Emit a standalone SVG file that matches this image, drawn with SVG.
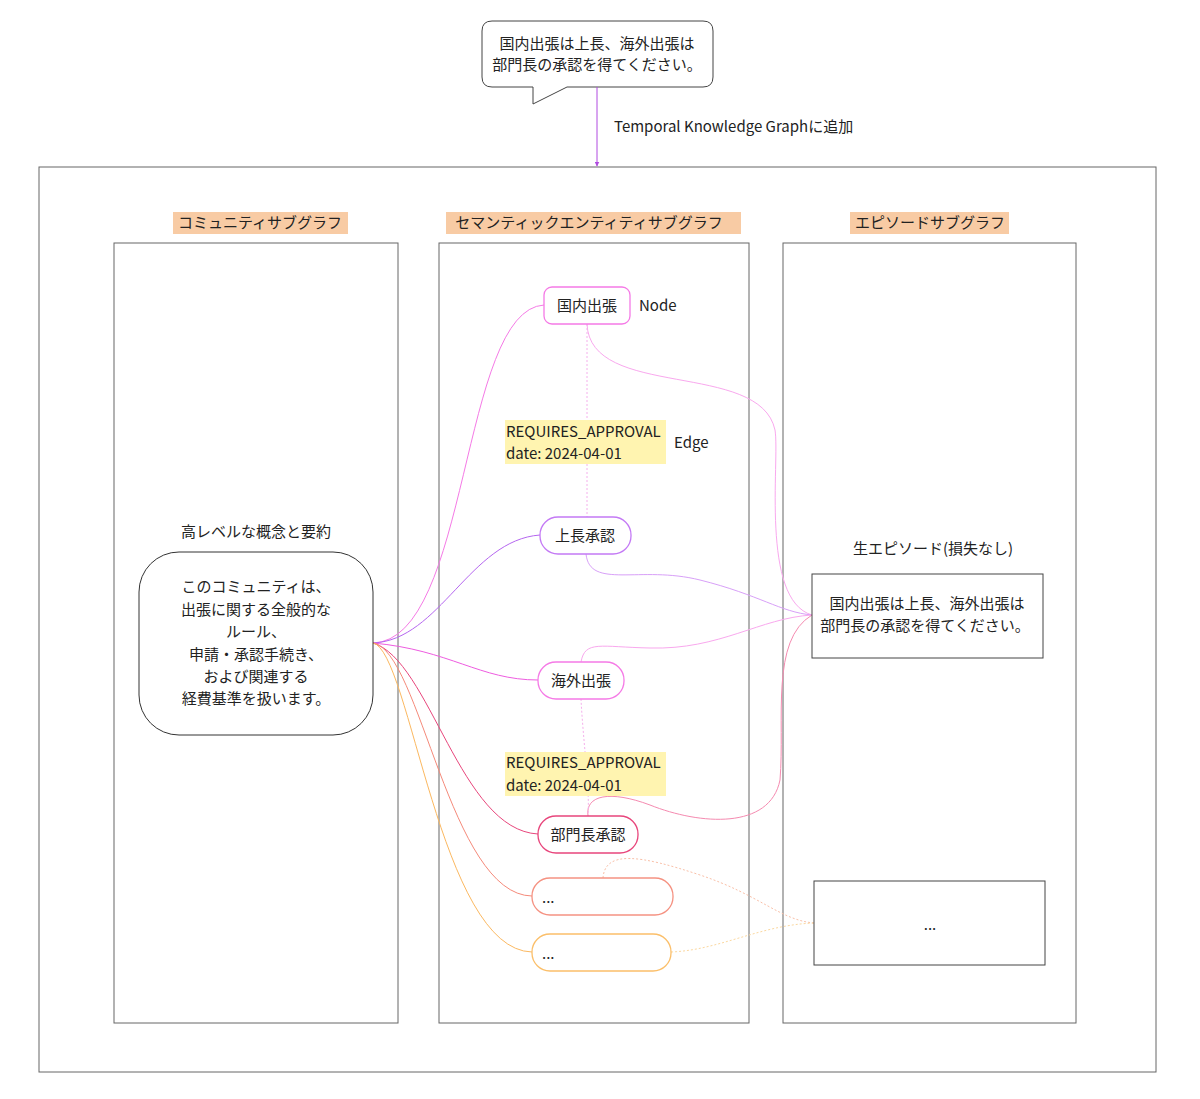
<svg xmlns="http://www.w3.org/2000/svg" width="1200" height="1099" viewBox="0 0 1200 1099">
<defs>
<style>
text{font-family:"Noto Sans CJK JP","Noto Sans",sans-serif;font-size:15px;fill:#222}
.c{text-anchor:middle}
.frame{fill:none;stroke:#666;stroke-width:1}
.glab{fill:#f8cba4}
.elab{fill:#fff4b0}
.n{fill:#fff;stroke-width:1.3}
.l{fill:none;stroke-width:1}
</style>
<marker id="ah" viewBox="0 0 10 10" refX="9" refY="5" markerWidth="5" markerHeight="5" orient="auto"><path d="M0,0L10,5L0,10z" fill="#b04be0"/></marker>
</defs>
<rect width="1200" height="1099" fill="#fff"/>
<g id="bubble">
<path d="M492,21H703Q713,21 713,31V77Q713,87 703,87H567L533,104V87H492Q482,87 482,77V31Q482,21 492,21Z" fill="#fff" stroke="#444"/>
<text class="c" x="597" y="49">国内出張は上長、海外出張は</text>
<text class="c" x="597" y="70">部門長の承認を得てください。</text>
</g>
<g id="frame">
<rect class="frame" x="39" y="167" width="1117" height="905"/>
<rect class="glab" x="173" y="212" width="175" height="22"/>
<text class="c" x="260" y="228">コミュニティサブグラフ</text>
<rect class="glab" x="446" y="212" width="295" height="22"/>
<text class="c" x="589" y="228">セマンティックエンティティサブグラフ</text>
<rect class="glab" x="850" y="212" width="159" height="22"/>
<text class="c" x="930" y="228">エピソードサブグラフ</text>
<rect class="frame" x="114" y="243" width="284" height="780"/>
<rect class="frame" x="439" y="243" width="310" height="780"/>
<rect class="frame" x="783" y="243" width="293" height="780"/>
</g>
<g id="connectors">
<path d="M597,87V166" stroke="#b04be0" fill="none" marker-end="url(#ah)"/>
<text x="614" y="132">Temporal Knowledge Graphに追加</text>
<path class="l" stroke="#f57ae6" d="M373,643C470,640 460,310 544,305"/>
<path class="l" stroke="#b566f0" d="M373,643C440,640 470,540 540,535"/>
<path class="l" stroke="#ee5ce0" d="M373,643C450,650 480,680 538,680"/>
<path class="l" stroke="#e8467c" d="M373,643C430,660 460,830 538,834"/>
<path class="l" stroke="#f58a7a" d="M373,643C420,650 450,895 532,896"/>
<path class="l" stroke="#fbb860" d="M373,643C410,650 440,950 532,952"/>
<path class="l" stroke="#f9a8ee" d="M587,324C590,400 760,360 775,430C780,460 760,600 812,615"/>
<path class="l" stroke="#d8a0f8" d="M586,554C590,590 640,565 700,580C760,595 780,612 812,615"/>
<path class="l" stroke="#f9a8ee" d="M581,662C585,640 600,647 650,648C720,650 760,618 812,615"/>
<path class="l" stroke="#f58ab0" d="M588,816C585,795 610,790 650,805C700,825 770,830 780,780C785,720 770,640 812,615"/>
<path class="l" stroke="#f9c0a8" stroke-dasharray="2,2" d="M603,878C605,850 640,855 700,875C760,895 780,920 814,923"/>
<path class="l" stroke="#fbd8a0" stroke-dasharray="2,2" d="M671,952C720,950 760,925 814,923"/>
<path class="l" stroke="#f5b0ec" stroke-dasharray="2,2" d="M587,324V517"/>
<path class="l" stroke="#f5b0ec" stroke-dasharray="2,2" d="M581,699C583,740 590,790 588,816"/>
</g>
<g id="community">
<text class="c" x="256" y="537">高レベルな概念と要約</text>
<rect x="139" y="552" width="234" height="183" rx="40" fill="#fff" stroke="#333"/>
<text class="c" x="256" y="592">このコミュニティは、</text>
<text class="c" x="256" y="615">出張に関する全般的な</text>
<text class="c" x="256" y="637">ルール、</text>
<text class="c" x="256" y="660">申請・承認手続き、</text>
<text class="c" x="256" y="682">および関連する</text>
<text class="c" x="256" y="704">経費基準を扱います。</text>
</g>
<g id="n1"><rect class="n" x="544" y="287" width="86" height="37" rx="8" stroke="#f57ae6"/><text class="c" x="587" y="311">国内出張</text><text x="639" y="311">Node</text></g>
<g id="e1"><rect class="elab" x="505" y="420" width="161" height="44"/><text x="506" y="437">REQUIRES_APPROVAL</text><text x="506" y="459">date: 2024-04-01</text><text x="674" y="448">Edge</text></g>
<g id="n2"><rect class="n" x="540" y="517" width="91" height="37" rx="18" stroke="#c47af5"/><text class="c" x="585" y="541">上長承認</text></g>
<g id="n3"><rect class="n" x="538" y="662" width="86" height="37" rx="18" stroke="#f57ae6"/><text class="c" x="581" y="686">海外出張</text></g>
<g id="e2"><rect class="elab" x="505" y="752" width="161" height="44"/><text x="506" y="768">REQUIRES_APPROVAL</text><text x="506" y="791">date: 2024-04-01</text></g>
<g id="n4"><rect class="n" x="538" y="816" width="100" height="37" rx="18" stroke="#e8467c"/><text class="c" x="588" y="840">部門長承認</text></g>
<g id="n5"><rect class="n" x="532" y="878" width="141" height="37" rx="18" stroke="#f59282"/><text x="542" y="903">...</text></g>
<g id="n6"><rect class="n" x="532" y="934" width="139" height="37" rx="18" stroke="#fbbf6a"/><text x="542" y="959">...</text></g>
<g id="ep1"><text class="c" x="933" y="554">生エピソード(損失なし)</text><rect x="812" y="574" width="231" height="84" fill="#fff" stroke="#444"/><text class="c" x="927" y="609">国内出張は上長、海外出張は</text><text class="c" x="925" y="631">部門長の承認を得てください。</text></g>
<g id="ep2"><rect x="814" y="881" width="231" height="84" fill="#fff" stroke="#444"/><text class="c" x="930" y="930">...</text></g>
</svg>
